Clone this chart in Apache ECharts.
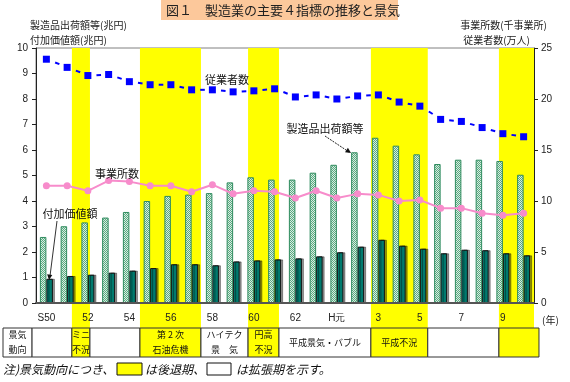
<!DOCTYPE html>
<html><head><meta charset="utf-8">
<script src="https://cdn.jsdelivr.net/npm/echarts@6/dist/echarts.min.js"></script>
<style>html,body{margin:0;padding:0;background:#fff}#c{width:570px;height:382px}</style>
</head><body><div id="c"></div>
<script>
// ---- data ----
const years = ['S50','S51','S52','S53','S54','S55','S56','S57','S58','S59','S60','S61','S62','S63','H元','H2','H3','H4','H5','H6','H7','H8','H9','H10'];
const tickLabels = ['S50','','52','','54','','56','','58','','60','','62','','H元','','3','','5','','7','','9',''];
const shipments = [2.59,3.01,3.16,3.35,3.57,4.00,4.20,4.25,4.31,4.73,4.93,4.84,4.84,5.11,5.42,5.91,6.48,6.17,5.83,5.45,5.62,5.62,5.57,5.03];
const valueAdded = [0.95,1.06,1.11,1.19,1.27,1.37,1.52,1.52,1.48,1.63,1.67,1.71,1.75,1.83,1.99,2.21,2.48,2.25,2.13,1.95,2.09,2.07,1.95,1.87];
const employees = [23.9,23.1,22.3,22.4,21.7,21.4,21.4,20.9,20.9,20.7,20.8,21.0,20.2,20.4,20.0,20.3,20.4,19.7,19.3,18.0,17.8,17.2,16.6,16.3];
const establishments = [11.5,11.5,11.0,12.0,11.9,11.5,11.5,10.9,11.6,10.7,11.0,10.9,10.3,11.0,10.3,10.7,10.6,10.0,10.1,9.3,9.3,8.8,8.6,8.8];
// business-cycle periods (in years since S50 start)
const periodFrom  = [-1.59,-0.19,1.73,2.60,5.01,7.95,10.22,11.71,16.14,18.88,22.31];
const periodTo    = [-0.19, 1.73,2.60,5.01,7.95,10.22,11.71,16.14,18.88,22.31,24.24];
const periodType  = ['head','up','down','up','down','up','down','up','down','up','down'];
const periodLabel = ['景気\n動向','','ミニ\n不況','','第 2 次\n石油危機','ハイテク\n景　気','円高\n不況','平成景気・バブル','平成不況','',''];
const leftTicks = [0,10,1];
const rightTicks = [0,25,5];

// ---- styles ----
const pc = document.createElement('canvas'); pc.width = 2; pc.height = 2;
const g = pc.getContext('2d');
g.fillStyle = '#d8eee0'; g.fillRect(0,0,2,2);
g.fillStyle = '#5aa882'; g.fillRect(0,0,1,1); g.fillRect(1,1,1,1);

const FONT = "'Noto Sans CJK JP', sans-serif";
const chart = echarts.init(document.getElementById('c'), null, {renderer:'canvas'});

const periodData = periodFrom.map((f,i)=>[f, periodTo[i], i]);
const dashData = employees.slice(1).map((v,i)=>[i+1, v]);

function renderPeriod(params, api){
  const i = api.value(2);
  const cs = params.coordSys;
  const x0 = api.coord([periodFrom[i], 0])[0];
  const x1 = api.coord([periodTo[i], 0])[0];
  const bottom = cs.y + cs.height;
  const tTop = bottom + 25, tBot = bottom + 54;
  const type = periodType[i];
  const children = [];
  if (type === 'down') {
    const bx1 = Math.min(x1, cs.x + cs.width);
    children.push({type:'rect', shape:{x:x0, y:cs.y, width:bx1-x0, height:tTop-cs.y}, style:{fill:'#ffff00'}});
  }
  children.push({type:'rect', shape:{x:x0, y:tTop, width:x1-x0, height:tBot-tTop},
    style:{fill: type==='down' ? '#ffff00' : '#ffffff', stroke:'#333', lineWidth:1}});
  if (periodLabel[i]) {
    children.push({type:'text', style:{text:periodLabel[i], x:(x0+x1)/2, y:(tTop+tBot)/2,
      align:'center', verticalAlign:'middle', fontSize:9, lineHeight:15, fontFamily:FONT, fill:'#111'}});
  }
  return {type:'group', children};
}

// short dash centred between consecutive employee markers
function renderDash(params, api){
  const i = api.value(0);
  const a = api.coord([i-1, employees[i-1]]);
  const b = api.coord([i, employees[i]]);
  const mx = (a[0]+b[0])/2 + 0.5, my = (a[1]+b[1])/2;
  const dx = b[0]-a[0], dy = b[1]-a[1];
  const len = Math.sqrt(dx*dx+dy*dy), h = 2.3;
  return {type:'line', shape:{x1:mx-dx/len*h, y1:my-dy/len*h, x2:mx+dx/len*h, y2:my+dy/len*h},
    style:{stroke:'#0000ff', lineWidth:2}};
}

function arrowHead(x1,y1,x2,y2,size){
  const a = Math.atan2(y2-y1, x2-x1);
  return [[x2,y2],[x2-size*Math.cos(a-0.45), y2-size*Math.sin(a-0.45)],[x2-size*Math.cos(a+0.45), y2-size*Math.sin(a+0.45)]];
}

const option = {
  animation:false,
  backgroundColor:'#ffffff',
  grid:{left:36, right:36, top:48, bottom:79, show:true, borderColor:'#808080', borderWidth:1},
  xAxis:[
    {type:'category', data:years, boundaryGap:true, z:3,
     axisLine:{show:true, lineStyle:{color:'#555', width:2}},
     axisTick:{show:false},
     axisLabel:{interval:0, margin:10, fontSize:10, color:'#222', fontFamily:'Liberation Sans, Arial', formatter:(v,i)=>tickLabels[i]}},
    {type:'value', min:0, max:24, show:false}
  ],
  yAxis:[
    {type:'value', min:leftTicks[0], max:leftTicks[1], interval:leftTicks[2], position:'left', z:3,
     axisLine:{show:true, lineStyle:{color:'#222', width:1}},
     axisTick:{show:true, length:4, lineStyle:{color:'#222'}},
     splitLine:{show:false},
     axisLabel:{fontSize:10, color:'#222', margin:8, fontFamily:'Liberation Sans, Arial'}},
    {type:'value', min:rightTicks[0], max:rightTicks[1], interval:rightTicks[2], position:'right', z:3,
     axisLine:{show:true, lineStyle:{color:'#222', width:1}},
     axisTick:{show:true, length:4, lineStyle:{color:'#222'}},
     splitLine:{show:false},
     axisLabel:{fontSize:10, color:'#222', margin:7, fontFamily:'Liberation Sans, Arial'}}
  ],
  series:[
    {type:'custom', name:'景気', xAxisIndex:1, yAxisIndex:0, z:1, clip:false, silent:true,
     data:periodData, renderItem:renderPeriod, encode:{x:[0,1]}},
    {type:'bar', name:'製造品出荷額等', data:shipments, barWidth:6.5, barGap:'0%', z:2,
     itemStyle:{color:{image:pc, repeat:'repeat'}, borderColor:'#2e8b5e', borderWidth:1}},
    {type:'bar', name:'付加価値額', data:valueAdded, barWidth:6.5, barGap:'0%', z:2,
     itemStyle:{color:'#007a6e', borderColor:'#111', borderWidth:1, shadowColor:'rgba(0,0,0,0.4)', shadowOffsetX:2, shadowOffsetY:0}},
    {type:'custom', name:'従業者数線', xAxisIndex:0, yAxisIndex:1, z:4, silent:true,
     data:dashData, renderItem:renderDash, encode:{x:0, y:1}},
    {type:'line', name:'従業者数', yAxisIndex:1, data:employees, z:4,
     symbol:'rect', symbolSize:7, itemStyle:{color:'#0000ff'},
     lineStyle:{width:0, opacity:0}},
    {type:'line', name:'事業所数', yAxisIndex:1, data:establishments, z:4,
     symbol:'circle', symbolSize:7, itemStyle:{color:'#f78ccb'},
     lineStyle:{color:'#f78ccb', width:2}}
  ],
  graphic:[
    {type:'rect', shape:{x:161, y:0, width:237, height:20}, style:{fill:'#fcc89b'}, z:10},
    {type:'text', x:166, y:10, style:{text:'図１　製造業の主要４指標の推移と景気', fontSize:13, fontFamily:FONT, fill:'#222', verticalAlign:'middle'}, z:11},
    {type:'text', x:30, y:25, style:{text:'製造品出荷額等(兆円)', fontSize:10, fontFamily:FONT, fill:'#222', verticalAlign:'middle'}, z:10},
    {type:'text', x:30, y:40, style:{text:'付加価値額(兆円)', fontSize:10, fontFamily:FONT, fill:'#222', verticalAlign:'middle'}, z:10},
    {type:'text', x:547, y:25, style:{text:'事業所数(千事業所)', fontSize:10, fontFamily:FONT, fill:'#222', align:'right', verticalAlign:'middle'}, z:10},
    {type:'text', x:530, y:40, style:{text:'従業者数(万人)', fontSize:10, fontFamily:FONT, fill:'#222', align:'right', verticalAlign:'middle'}, z:10},
    {type:'text', x:227, y:80, style:{text:'従業者数', fontSize:11, fontFamily:FONT, fill:'#111', align:'center', verticalAlign:'middle'}, z:10},
    {type:'text', x:325, y:129, style:{text:'製造品出荷額等', fontSize:11, fontFamily:FONT, fill:'#111', align:'center', verticalAlign:'middle'}, z:10},
    {type:'line', shape:{x1:325, y1:136, x2:349, y2:152}, style:{stroke:'#222', lineWidth:1, lineDash:[2,1]}, z:10},
    {type:'polygon', shape:{points:arrowHead(325,136,351,153,6)}, style:{fill:'#111'}, z:10},
    {type:'text', x:117, y:174, style:{text:'事業所数', fontSize:11, fontFamily:FONT, fill:'#111', align:'center', verticalAlign:'middle'}, z:10},
    {type:'text', x:70, y:214, style:{text:'付加価値額', fontSize:11, fontFamily:FONT, fill:'#111', align:'center', verticalAlign:'middle'}, z:10},
    {type:'line', shape:{x1:57, y1:221, x2:50, y2:276}, style:{stroke:'#333', lineWidth:1}, z:10},
    {type:'polygon', shape:{points:arrowHead(57,221,49,280,6)}, style:{fill:'#111'}, z:10},
    {type:'text', x:542, y:320, style:{text:'(年)', fontSize:10, fontFamily:FONT, fill:'#222', verticalAlign:'middle', backgroundColor:'#fff'}, z:10},
    {type:'text', x:3, y:369, style:{text:'注)景気動向につき、', fontSize:12, fontStyle:'italic', fontFamily:FONT, fill:'#111', verticalAlign:'middle'}, z:10},
    {type:'rect', shape:{x:117, y:363, width:25, height:12}, style:{fill:'#ffff00', stroke:'#111', lineWidth:1}, z:10},
    {type:'text', x:145, y:369, style:{text:'は後退期、', fontSize:12, fontStyle:'italic', fontFamily:FONT, fill:'#111', verticalAlign:'middle'}, z:10},
    {type:'rect', shape:{x:207, y:363, width:24, height:12}, style:{fill:'#ffffff', stroke:'#111', lineWidth:1}, z:10},
    {type:'text', x:236, y:369, style:{text:'は拡張期を示す。', fontSize:12, fontStyle:'italic', fontFamily:FONT, fill:'#111', verticalAlign:'middle'}, z:10}
  ]
};
chart.setOption(option);
</script></body></html>
